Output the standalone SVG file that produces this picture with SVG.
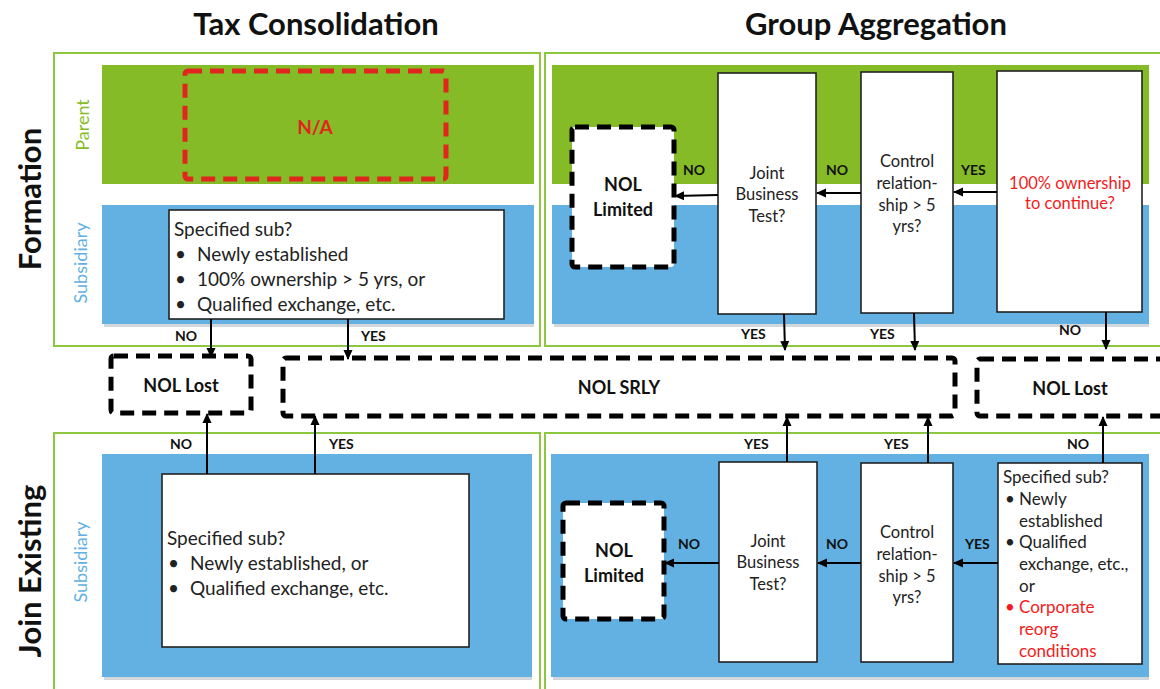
<svg xmlns="http://www.w3.org/2000/svg" width="1160" height="689" viewBox="0 0 1160 689">
<defs>
<style>
text{font-family:Lato,"Open Sans","Liberation Sans",sans-serif;fill:#222}
.title{font-size:31px;font-weight:bold;fill:#111}
.row{font-size:31px;font-weight:bold;fill:#111}
.frame{fill:none;stroke:#8DC63F;stroke-width:2}
.gband{fill:#84BB26}
.bband{fill:#62B1E2}
.shadow{fill:#9aa7b0;opacity:0.45}
.box{fill:#fff;stroke:#222;stroke-width:1.6}
.dash{fill:#fff;stroke:#000;stroke-width:5;stroke-dasharray:14 8}
.reddash{fill:none;stroke:#E0261F;stroke-width:5;stroke-dasharray:14 8}
.t{font-size:19px}
.s{font-size:16.5px;text-anchor:middle}
.sl{font-size:17px}
.red{fill:#F21B1B}
.lbl{font-size:14px;font-weight:bold;fill:#111}
.nol{font-size:18px;font-weight:bold;text-anchor:middle;fill:#111}
.conn{stroke:#000;stroke-width:2;fill:none;marker-end:url(#ah)}
</style>
<marker id="ah" markerUnits="userSpaceOnUse" markerWidth="10" markerHeight="10" refX="9" refY="5" orient="auto">
<path d="M0,0.5 L10,5 L0,9.5 Z" fill="#000"/>
</marker>
</defs>
<rect width="1160" height="689" fill="#fff"/>

<g id="titles">
<text class="title" x="316" y="35" text-anchor="middle">Tax Consolidation</text>
<text class="title" x="876" y="35" text-anchor="middle">Group Aggregation</text>
<text class="row" transform="translate(41,199) rotate(-90)" text-anchor="middle">Formation</text>
<text class="row" transform="translate(41,571) rotate(-90)" text-anchor="middle">Join Existing</text>
</g>

<g id="frames">
<rect class="frame" x="54" y="53" width="486" height="293"/>
<rect class="frame" x="545" y="53" width="620" height="293"/>
<rect class="frame" x="54" y="433" width="486" height="260"/>
<rect class="frame" x="545" y="433" width="620" height="260"/>
</g>

<g id="bands">
<rect class="gband" x="102" y="65" width="432" height="119"/>
<rect class="shadow" x="104" y="324" width="430" height="3"/>
<rect class="bband" x="102" y="205" width="432" height="119"/>
<rect class="gband" x="552" y="65" width="597" height="119"/>
<rect class="shadow" x="554" y="324" width="595" height="3"/>
<rect class="bband" x="552" y="205" width="597" height="119"/>
<rect class="shadow" x="104" y="677" width="428" height="3"/>
<rect class="bband" x="102" y="454" width="430" height="223"/>
<rect class="shadow" x="553" y="677" width="596" height="3"/>
<rect class="bband" x="551" y="454" width="598" height="223"/>
<text transform="translate(89,125) rotate(-90)" text-anchor="middle" style="font-size:18px;fill:#86BC25">Parent</text>
<text transform="translate(87,263) rotate(-90)" text-anchor="middle" style="font-size:18px;fill:#62B1E2">Subsidiary</text>
<text transform="translate(87,562) rotate(-90)" text-anchor="middle" style="font-size:18px;fill:#62B1E2">Subsidiary</text>
</g>

<g id="na">
<rect class="reddash" x="185" y="71" width="261" height="108" rx="3"/>
<text x="315" y="134" text-anchor="middle" style="font-size:19px;font-weight:bold;fill:#E0261F">N/A</text>
</g>

<g id="tc-form-spec">
<rect class="box" x="169" y="210" width="335" height="109"/>
<text class="t" x="174" y="236">Specified sub?</text>
<text class="t" x="175" y="261">•</text><text class="t" x="197" y="261">Newly established</text>
<text class="t" x="175" y="286">•</text><text class="t" x="197" y="286">100% ownership &gt; 5 yrs, or</text>
<text class="t" x="175" y="311">•</text><text class="t" x="197" y="311">Qualified exchange, etc.</text>
</g>

<g id="ga-form-nol-limited">
<rect class="dash" x="572" y="127" width="102" height="140" rx="3"/>
<text class="nol" x="623" y="191">NOL</text>
<text class="nol" x="623" y="216">Limited</text>
</g>
<g id="ga-form-jbt">
<rect class="box" x="718" y="73" width="98" height="241"/>
<text class="s" x="767" y="179">Joint</text>
<text class="s" x="767" y="200">Business</text>
<text class="s" x="767" y="222">Test?</text>
</g>
<g id="ga-form-ctrl">
<rect class="box" x="861" y="72" width="92" height="241"/>
<text class="s" x="907" y="167">Control</text>
<text class="s" x="907" y="189">relation-</text>
<text class="s" x="907" y="211">ship &gt; 5</text>
<text class="s" x="907" y="232">yrs?</text>
</g>
<g id="ga-form-own">
<rect class="box" x="997" y="71" width="145" height="241"/>
<text class="s red" x="1070" y="189">100% ownership</text>
<text class="s red" x="1070" y="209">to continue?</text>
</g>

<g id="nol-lost-left">
<rect class="dash" x="111" y="356" width="140" height="57" rx="3"/>
<text class="nol" x="181" y="392">NOL Lost</text>
</g>
<g id="nol-srly">
<rect class="dash" x="283" y="358" width="672" height="58" rx="3"/>
<text class="nol" x="619" y="394">NOL SRLY</text>
</g>
<g id="nol-lost-right">
<rect class="dash" x="977" y="359" width="200" height="57" rx="3"/>
<text class="nol" x="1070" y="395">NOL Lost</text>
</g>

<g id="tc-join-spec">
<rect class="box" x="162" y="474" width="307" height="173"/>
<text class="t" x="167" y="545">Specified sub?</text>
<text class="t" x="168" y="570">•</text><text class="t" x="190" y="570">Newly established, or</text>
<text class="t" x="168" y="595">•</text><text class="t" x="190" y="595">Qualified exchange, etc.</text>
</g>

<g id="ga-join-nol-limited">
<rect class="dash" x="563" y="503" width="101" height="116" rx="3"/>
<text class="nol" x="614" y="557">NOL</text>
<text class="nol" x="614" y="582">Limited</text>
</g>
<g id="ga-join-jbt">
<rect class="box" x="719" y="462" width="98" height="200"/>
<text class="s" x="768" y="547">Joint</text>
<text class="s" x="768" y="568">Business</text>
<text class="s" x="768" y="590">Test?</text>
</g>
<g id="ga-join-ctrl">
<rect class="box" x="861" y="463" width="92" height="199"/>
<text class="s" x="907" y="538">Control</text>
<text class="s" x="907" y="560">relation-</text>
<text class="s" x="907" y="582">ship &gt; 5</text>
<text class="s" x="907" y="603">yrs?</text>
</g>
<g id="ga-join-spec">
<rect class="box" x="998" y="463" width="144" height="201"/>
<text class="sl" x="1003" y="483">Specified sub?</text>
<text class="sl" x="1005" y="505">•</text><text class="sl" x="1019" y="505">Newly</text>
<text class="sl" x="1019" y="527">established</text>
<text class="sl" x="1005" y="548">•</text><text class="sl" x="1019" y="548">Qualified</text>
<text class="sl" x="1019" y="570">exchange, etc.,</text>
<text class="sl" x="1019" y="592">or</text>
<text class="sl red" x="1005" y="613">•</text><text class="sl red" x="1019" y="613">Corporate</text>
<text class="sl red" x="1019" y="635">reorg</text>
<text class="sl red" x="1019" y="657">conditions</text>
</g>

<g id="connectors">
<line class="conn" x1="211" y1="319" x2="211" y2="357"/>
<line class="conn" x1="348" y1="319" x2="348" y2="359"/>
<line class="conn" x1="997" y1="192" x2="954" y2="192"/>
<line class="conn" x1="861" y1="193" x2="817" y2="193"/>
<line class="conn" x1="718" y1="195" x2="675" y2="196"/>
<line class="conn" x1="784" y1="314" x2="785" y2="350"/>
<line class="conn" x1="914" y1="313" x2="915" y2="350"/>
<line class="conn" x1="1106" y1="312" x2="1106" y2="349"/>
<line class="conn" x1="207" y1="474" x2="207" y2="414"/>
<line class="conn" x1="315" y1="474" x2="315" y2="416"/>
<line class="conn" x1="787" y1="462" x2="787" y2="417"/>
<line class="conn" x1="928" y1="463" x2="928" y2="417"/>
<line class="conn" x1="1103" y1="463" x2="1103" y2="417"/>
<line class="conn" x1="998" y1="563" x2="954" y2="563"/>
<line class="conn" x1="861" y1="563" x2="818" y2="563"/>
<line class="conn" x1="719" y1="563" x2="665" y2="563"/>
<text class="lbl" x="175" y="341">NO</text>
<text class="lbl" x="361" y="341">YES</text>
<text class="lbl" x="683" y="175">NO</text>
<text class="lbl" x="826" y="175">NO</text>
<text class="lbl" x="961" y="175">YES</text>
<text class="lbl" x="741" y="339">YES</text>
<text class="lbl" x="870" y="339">YES</text>
<text class="lbl" x="1059" y="335">NO</text>
<text class="lbl" x="170" y="449">NO</text>
<text class="lbl" x="329" y="449">YES</text>
<text class="lbl" x="744" y="449">YES</text>
<text class="lbl" x="884" y="449">YES</text>
<text class="lbl" x="1067" y="449">NO</text>
<text class="lbl" x="965" y="549">YES</text>
<text class="lbl" x="826" y="549">NO</text>
<text class="lbl" x="678" y="549">NO</text>
</g>
</svg>
